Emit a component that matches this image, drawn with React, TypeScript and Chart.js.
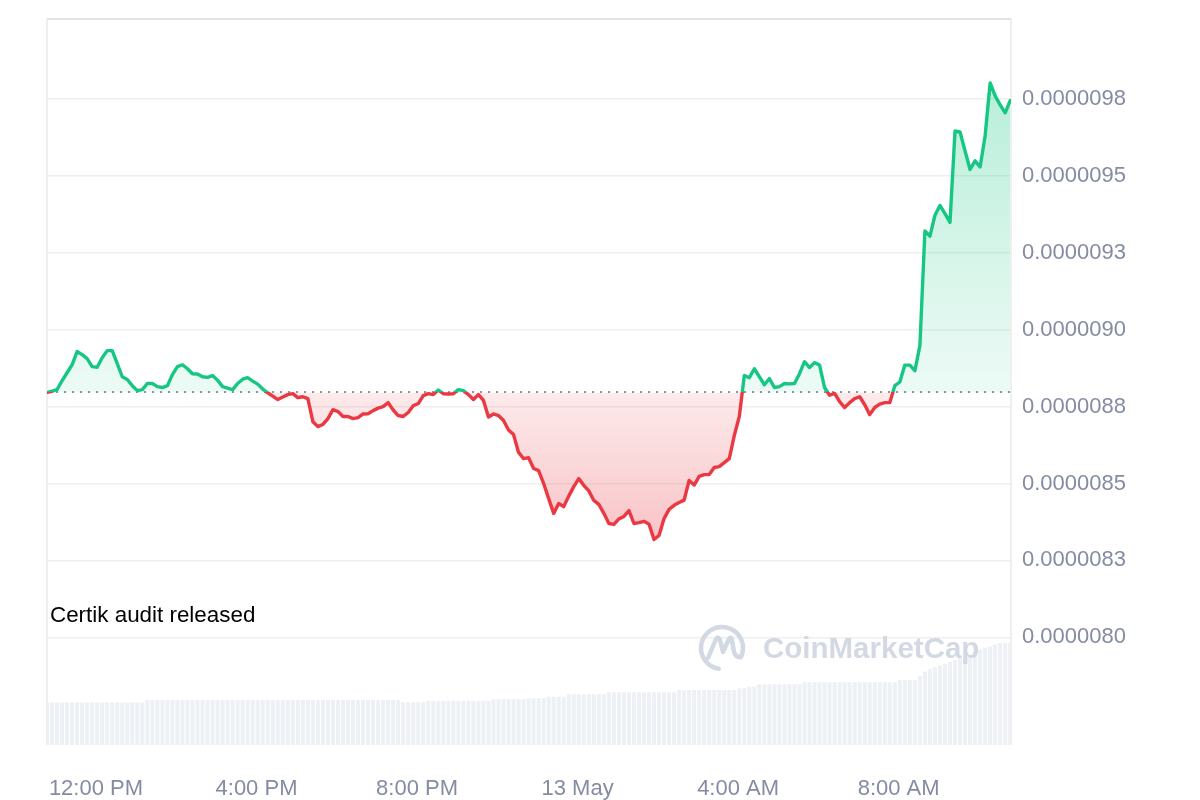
import React, { useEffect, useRef } from "react";
import { Chart, registerables } from "chart.js";

Chart.register(...registerables);

// ---- DATA ----
// time axis: hours since 00:00, 12 May (24 = 13 May 00:00); sampled every 7.5 minutes
const START_HOUR = 10.78;
const STEP_HOURS = 0.125;

// price, in millionths of USD (x 1e-6)
const PRICE_E6 = [
  8.796, 8.800, 8.805, 8.834, 8.860, 8.886, 8.929, 8.919, 8.906, 8.880,
  8.878, 8.909, 8.932, 8.932, 8.890, 8.847, 8.838, 8.818, 8.802, 8.805,
  8.825, 8.825, 8.815, 8.812, 8.818, 8.854, 8.880, 8.886, 8.873, 8.857,
  8.856, 8.847, 8.845, 8.851, 8.836, 8.815, 8.810, 8.805, 8.825, 8.839,
  8.844, 8.833, 8.823, 8.807, 8.795, 8.784, 8.773, 8.781, 8.789, 8.792,
  8.779, 8.782, 8.776, 8.701, 8.685, 8.692, 8.711, 8.740, 8.734, 8.718,
  8.718, 8.711, 8.714, 8.726, 8.727, 8.737, 8.745, 8.750, 8.763, 8.739,
  8.721, 8.718, 8.731, 8.753, 8.760, 8.786, 8.792, 8.789, 8.804, 8.792,
  8.791, 8.792, 8.805, 8.802, 8.789, 8.773, 8.789, 8.770, 8.716, 8.726,
  8.721, 8.705, 8.674, 8.659, 8.601, 8.581, 8.584, 8.549, 8.542, 8.500,
  8.451, 8.403, 8.435, 8.425, 8.459, 8.490, 8.516, 8.494, 8.476, 8.445,
  8.432, 8.403, 8.370, 8.367, 8.385, 8.393, 8.412, 8.370, 8.373, 8.377,
  8.368, 8.318, 8.331, 8.386, 8.416, 8.429, 8.438, 8.446, 8.510, 8.495,
  8.523, 8.529, 8.529, 8.552, 8.555, 8.568, 8.581, 8.656, 8.718, 8.851,
  8.844, 8.873, 8.847, 8.821, 8.841, 8.812, 8.815, 8.825, 8.824, 8.825,
  8.857, 8.896, 8.877, 8.893, 8.885, 8.812, 8.787, 8.793, 8.766, 8.747,
  8.763, 8.776, 8.782, 8.756, 8.724, 8.747, 8.758, 8.763, 8.763, 8.818,
  8.830, 8.885, 8.885, 8.867, 8.948, 9.321, 9.304, 9.372, 9.404, 9.377,
  9.349, 9.646, 9.643, 9.581, 9.521, 9.549, 9.529, 9.630, 9.802, 9.760,
  9.731, 9.705, 9.745,
];

// volume, thousands of USD
const VOLUME_K = [
  425, 425, 425, 425, 425, 425, 425, 425, 425, 425,
  425, 425, 425, 425, 425, 425, 425, 425, 425, 425,
  450, 450, 450, 450, 450, 450, 450, 450, 450, 450,
  450, 450, 450, 450, 450, 450, 450, 450, 450, 450,
  450, 450, 450, 450, 450, 450, 450, 450, 450, 450,
  450, 450, 450, 450, 450, 450, 450, 450, 450, 450,
  450, 450, 450, 450, 450, 450, 450, 450, 450, 450,
  450, 427, 427, 427, 427, 427, 443, 443, 443, 443,
  443, 443, 443, 443, 443, 443, 443, 443, 443, 457,
  457, 457, 457, 457, 457, 457, 467, 467, 467, 467,
  483, 483, 483, 483, 507, 507, 507, 507, 507, 507,
  507, 507, 527, 527, 527, 527, 527, 527, 527, 527,
  527, 527, 527, 527, 527, 527, 550, 550, 550, 550,
  550, 550, 550, 550, 550, 550, 550, 550, 567, 567,
  583, 583, 607, 607, 607, 607, 607, 607, 607, 607,
  607, 627, 627, 627, 627, 627, 627, 627, 627, 627,
  627, 627, 627, 627, 627, 627, 627, 627, 627, 627,
  650, 650, 650, 650, 690, 735, 760, 780, 795, 810,
  828, 850, 870, 888, 905, 930, 955, 972, 985, 1005,
  1020, 1020, 1022,
];

const X_TICKS = [12, 16, 20, 24, 28, 32];
const X_TICK_LABELS = ["12:00 PM", "4:00 PM", "8:00 PM", "13 May", "4:00 AM", "8:00 AM"];

const Y_TICKS_E6 = [8.0, 8.25, 8.5, 8.75, 9.0, 9.25, 9.5, 9.75];
const Y_TICK_LABELS = [
  "0.0000080", "0.0000083", "0.0000085", "0.0000088",
  "0.0000090", "0.0000093", "0.0000095", "0.0000098",
];

const Y_MIN_E6 = 7.65;
const Y_MAX_E6 = 10.01;
const X_MIN = 10.78;
const X_MAX = 34.8;
const VOL_MAX_K = 7260;

const ANNOTATION = "Certik audit released";
const WATERMARK = "CoinMarketCap";

// ---- STYLE ----
const GREEN = "#16c784";
const RED = "#ea3943";
const TICK_COLOR = "#858ca2";
const FONT = '"Liberation Sans", Arial, Helvetica, sans-serif';

const TIMES = PRICE_E6.map((_, i) => START_HOUR + i * STEP_HOURS);
const PRICE = PRICE_E6.map((v) => v * 1e-6);
const BASE_PRICE = PRICE[0];

const decorPlugin = {
  id: "decor",
  beforeDatasetsDraw(chart: any) {
    const { ctx, chartArea, scales } = chart;
    const { left, right, top, bottom } = chartArea;
    ctx.save();
    ctx.lineWidth = 2;
    ctx.strokeStyle = "#efefef";
    ctx.beginPath();
    ctx.moveTo(left, top);
    ctx.lineTo(left, bottom);
    ctx.moveTo(right, top);
    ctx.lineTo(right, bottom);
    ctx.stroke();
    ctx.strokeStyle = "#e3e3e3";
    ctx.beginPath();
    ctx.moveTo(left, top);
    ctx.lineTo(right, top);
    ctx.stroke();
    const yb = Math.round(scales.y.getPixelForValue(BASE_PRICE));
    ctx.setLineDash([2, 6]);
    ctx.strokeStyle = "#8f95a3";
    ctx.lineWidth = 2;
    ctx.beginPath();
    ctx.moveTo(left + 1, yb);
    ctx.lineTo(right, yb);
    ctx.stroke();
    ctx.restore();
  },
  afterDatasetsDraw(chart: any) {
    const { ctx, chartArea } = chart;
    const { left, right, bottom } = chartArea;
    ctx.save();
    // annotation
    ctx.fillStyle = "#000000";
    ctx.font = `22.4px ${FONT}`;
    ctx.textBaseline = "middle";
    ctx.textAlign = "left";
    ctx.fillText(ANNOTATION, left + 3, bottom - 129);
    // watermark
    const wc = "#d3d9e3";
    const cx = right - 289;
    const cy = bottom - 97;
    ctx.strokeStyle = wc;
    ctx.lineWidth = 4.5;
    ctx.lineCap = "round";
    ctx.lineJoin = "round";
    ctx.beginPath();
    ctx.arc(cx, cy, 21, Math.PI * 0.55, Math.PI * 2.12);
    ctx.stroke();
    ctx.beginPath();
    ctx.moveTo(cx - 14, cy + 10);
    ctx.lineTo(cx - 6, cy - 9);
    ctx.quadraticCurveTo(cx - 4, cy - 12, cx - 2, cy - 8);
    ctx.lineTo(cx + 1, cy + 4);
    ctx.lineTo(cx + 7, cy - 9);
    ctx.quadraticCurveTo(cx + 9, cy - 12, cx + 10, cy - 8);
    ctx.lineTo(cx + 12, cy + 4);
    ctx.quadraticCurveTo(cx + 14, cy + 10, cx + 19, cy + 9);
    ctx.stroke();
    ctx.fillStyle = wc;
    ctx.font = `bold 29.5px ${FONT}`;
    ctx.textBaseline = "middle";
    ctx.fillText(WATERMARK, cx + 41, cy + 2);
    ctx.restore();
  },
};

export default function App() {
  const ref = useRef<HTMLCanvasElement>(null);

  useEffect(() => {
    const canvas = ref.current;
    if (!canvas) return;
    Chart.defaults.font.family = FONT;

    const chart = new Chart(canvas, {
      type: "line",
      data: {
        datasets: [
          {
            type: "line",
            label: "Price",
            data: TIMES.map((t, i) => ({ x: t, y: PRICE[i] })),
            borderColor: GREEN,
            borderWidth: 3.4,
            pointRadius: 0,
            tension: 0,
            borderJoinStyle: "round",
            borderCapStyle: "round",
            fill: { value: BASE_PRICE, above: "rgba(22,199,132,0.15)", below: "rgba(234,57,67,0.15)" },
            yAxisID: "y",
            order: 0,
          },
          {
            type: "bar",
            label: "Volume",
            data: TIMES.map((t, i) => ({ x: t, y: VOLUME_K[i] })),
            backgroundColor: "#edf0f4",
            barPercentage: 0.8,
            categoryPercentage: 1,
            yAxisID: "yVol",
            order: 1,
          },
        ] as any,
      },
      plugins: [decorPlugin],
      options: {
        responsive: false,
        animation: false,
        events: [],
        layout: { padding: { left: 47, top: 19, right: 0, bottom: 0 } },
        plugins: { legend: { display: false }, tooltip: { enabled: false } },
        scales: {
          x: {
            type: "linear",
            min: X_MIN,
            max: X_MAX,
            offset: false,
            grid: { display: false, drawTicks: false },
            border: { display: false },
            afterBuildTicks: (scale: any) => {
              scale.ticks = X_TICKS.map((v) => ({ value: v }));
            },
            afterFit: (scale: any) => {
              scale.height = 55;
              scale.paddingLeft = 0;
              scale.paddingRight = 0;
            },
            ticks: {
              color: TICK_COLOR,
              font: { size: 22, family: FONT },
              padding: 31,
              maxRotation: 0,
              autoSkip: false,
              callback: (_v: any, i: number) => X_TICK_LABELS[i],
            },
          },
          y: {
            type: "linear",
            position: "right",
            min: Y_MIN_E6 * 1e-6,
            max: Y_MAX_E6 * 1e-6,
            grid: { color: "#efefef", lineWidth: 1.5, drawTicks: false },
            border: { display: false },
            afterBuildTicks: (scale: any) => {
              scale.ticks = Y_TICKS_E6.map((v) => ({ value: v * 1e-6 }));
            },
            afterFit: (scale: any) => {
              scale.width = 189;
              scale.paddingTop = 0;
              scale.paddingBottom = 0;
            },
            ticks: {
              color: TICK_COLOR,
              font: { size: 22, family: FONT },
              padding: 11,
              callback: (_v: any, i: number) => Y_TICK_LABELS[i],
            },
          },
          yVol: {
            type: "linear",
            display: false,
            min: 0,
            max: VOL_MAX_K,
          },
        },
      } as any,
    });

    // gradients computed from the laid-out scales
    const { ctx, chartArea, scales } = chart as any;
    const yScale = scales.y;
    const yb = yScale.getPixelForValue(BASE_PRICE);
    const yHi = yScale.getPixelForValue(Math.max(...PRICE));
    const yLo = yScale.getPixelForValue(Math.min(...PRICE));
    const stop = (yb - chartArea.top) / (chartArea.bottom - chartArea.top);
    const lineGrad = ctx.createLinearGradient(0, chartArea.top, 0, chartArea.bottom);
    lineGrad.addColorStop(0, GREEN);
    lineGrad.addColorStop(stop, GREEN);
    lineGrad.addColorStop(stop, RED);
    lineGrad.addColorStop(1, RED);
    const upGrad = ctx.createLinearGradient(0, yHi, 0, yb);
    upGrad.addColorStop(0, "rgba(22,199,132,0.30)");
    upGrad.addColorStop(1, "rgba(22,199,132,0.08)");
    const downGrad = ctx.createLinearGradient(0, yb, 0, yLo);
    downGrad.addColorStop(0, "rgba(234,57,67,0.10)");
    downGrad.addColorStop(1, "rgba(234,57,67,0.30)");
    const ds: any = chart.data.datasets[0];
    ds.borderColor = lineGrad;
    ds.fill = { value: BASE_PRICE, above: upGrad, below: downGrad };
    chart.update();

    return () => chart.destroy();
  }, []);

  return (
    <div style={{ position: "absolute", left: 0, top: 0, width: 1200, height: 800, background: "#ffffff" }}>
      <canvas ref={ref} width={1200} height={800} style={{ display: "block" }} />
    </div>
  );
}
